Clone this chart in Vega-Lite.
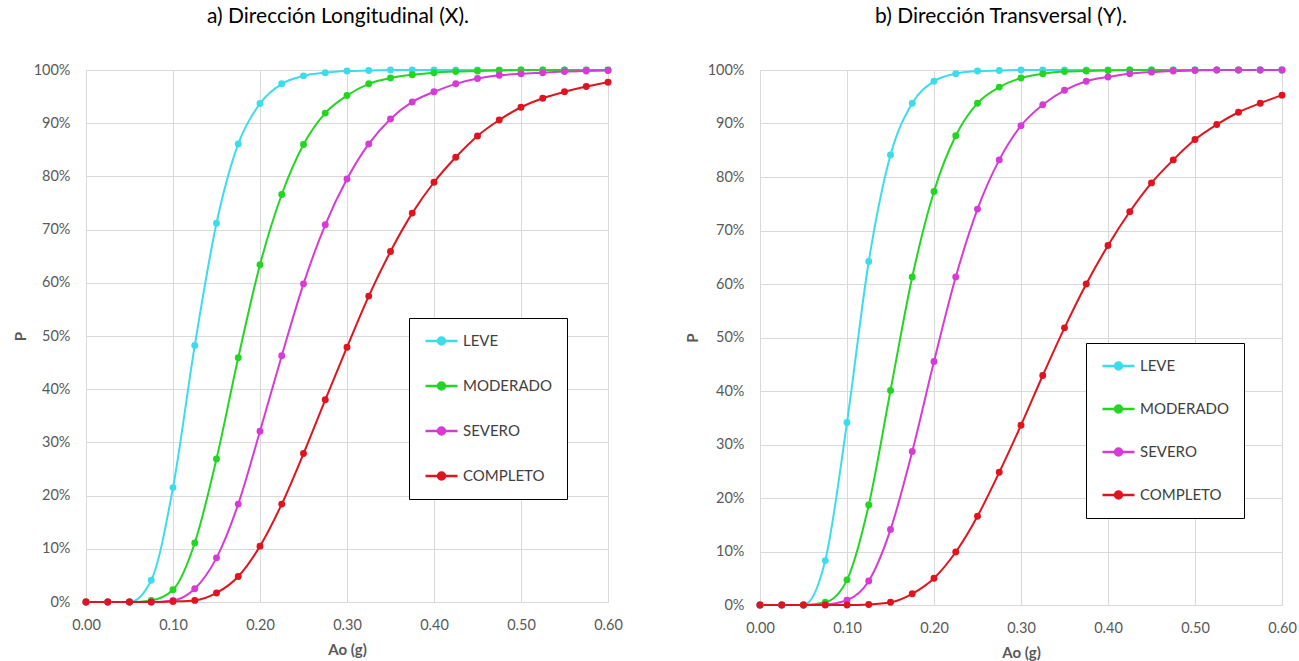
{
  "$schema": "https://vega.github.io/schema/vega-lite/v6.json",
  "background": "white",
  "padding": {"left": 12, "top": 5, "right": 5, "bottom": 0},
  "datasets": {
    "X": [
      {"x": 0.000, "LEVE": 0.000, "MODERADO": 0.000, "SEVERO": 0.000, "COMPLETO": 0.000},
      {"x": 0.025, "LEVE": 0.000, "MODERADO": 0.000, "SEVERO": 0.000, "COMPLETO": 0.000},
      {"x": 0.050, "LEVE": 0.000, "MODERADO": 0.000, "SEVERO": 0.000, "COMPLETO": 0.000},
      {"x": 0.075, "LEVE": 0.041, "MODERADO": 0.003, "SEVERO": 0.000, "COMPLETO": 0.000},
      {"x": 0.100, "LEVE": 0.215, "MODERADO": 0.023, "SEVERO": 0.003, "COMPLETO": 0.001},
      {"x": 0.125, "LEVE": 0.482, "MODERADO": 0.111, "SEVERO": 0.025, "COMPLETO": 0.003},
      {"x": 0.150, "LEVE": 0.712, "MODERADO": 0.269, "SEVERO": 0.083, "COMPLETO": 0.017},
      {"x": 0.175, "LEVE": 0.861, "MODERADO": 0.459, "SEVERO": 0.184, "COMPLETO": 0.048},
      {"x": 0.200, "LEVE": 0.937, "MODERADO": 0.634, "SEVERO": 0.321, "COMPLETO": 0.105},
      {"x": 0.225, "LEVE": 0.974, "MODERADO": 0.766, "SEVERO": 0.463, "COMPLETO": 0.184},
      {"x": 0.250, "LEVE": 0.989, "MODERADO": 0.860, "SEVERO": 0.598, "COMPLETO": 0.279},
      {"x": 0.275, "LEVE": 0.995, "MODERADO": 0.919, "SEVERO": 0.709, "COMPLETO": 0.380},
      {"x": 0.300, "LEVE": 0.998, "MODERADO": 0.952, "SEVERO": 0.795, "COMPLETO": 0.479},
      {"x": 0.325, "LEVE": 0.999, "MODERADO": 0.974, "SEVERO": 0.861, "COMPLETO": 0.575},
      {"x": 0.350, "LEVE": 1.000, "MODERADO": 0.985, "SEVERO": 0.908, "COMPLETO": 0.659},
      {"x": 0.375, "LEVE": 1.000, "MODERADO": 0.991, "SEVERO": 0.940, "COMPLETO": 0.731},
      {"x": 0.400, "LEVE": 1.000, "MODERADO": 0.995, "SEVERO": 0.959, "COMPLETO": 0.789},
      {"x": 0.425, "LEVE": 1.000, "MODERADO": 0.997, "SEVERO": 0.974, "COMPLETO": 0.836},
      {"x": 0.450, "LEVE": 1.000, "MODERADO": 0.998, "SEVERO": 0.984, "COMPLETO": 0.876},
      {"x": 0.475, "LEVE": 1.000, "MODERADO": 0.999, "SEVERO": 0.990, "COMPLETO": 0.906},
      {"x": 0.500, "LEVE": 1.000, "MODERADO": 1.000, "SEVERO": 0.993, "COMPLETO": 0.930},
      {"x": 0.525, "LEVE": 1.000, "MODERADO": 1.000, "SEVERO": 0.995, "COMPLETO": 0.947},
      {"x": 0.550, "LEVE": 1.000, "MODERADO": 1.000, "SEVERO": 0.997, "COMPLETO": 0.959},
      {"x": 0.575, "LEVE": 1.000, "MODERADO": 1.000, "SEVERO": 0.998, "COMPLETO": 0.969},
      {"x": 0.600, "LEVE": 1.000, "MODERADO": 1.000, "SEVERO": 0.999, "COMPLETO": 0.977}
    ],
    "Y": [
      {"x": 0.000, "LEVE": 0.000, "MODERADO": 0.000, "SEVERO": 0.000, "COMPLETO": 0.000},
      {"x": 0.025, "LEVE": 0.000, "MODERADO": 0.000, "SEVERO": 0.000, "COMPLETO": 0.000},
      {"x": 0.050, "LEVE": 0.000, "MODERADO": 0.000, "SEVERO": 0.000, "COMPLETO": 0.000},
      {"x": 0.075, "LEVE": 0.083, "MODERADO": 0.005, "SEVERO": 0.001, "COMPLETO": 0.000},
      {"x": 0.100, "LEVE": 0.341, "MODERADO": 0.047, "SEVERO": 0.009, "COMPLETO": 0.000},
      {"x": 0.125, "LEVE": 0.642, "MODERADO": 0.187, "SEVERO": 0.045, "COMPLETO": 0.001},
      {"x": 0.150, "LEVE": 0.841, "MODERADO": 0.401, "SEVERO": 0.141, "COMPLETO": 0.005},
      {"x": 0.175, "LEVE": 0.938, "MODERADO": 0.613, "SEVERO": 0.287, "COMPLETO": 0.021},
      {"x": 0.200, "LEVE": 0.979, "MODERADO": 0.773, "SEVERO": 0.455, "COMPLETO": 0.050},
      {"x": 0.225, "LEVE": 0.993, "MODERADO": 0.877, "SEVERO": 0.613, "COMPLETO": 0.099},
      {"x": 0.250, "LEVE": 0.998, "MODERADO": 0.938, "SEVERO": 0.740, "COMPLETO": 0.166},
      {"x": 0.275, "LEVE": 0.999, "MODERADO": 0.968, "SEVERO": 0.832, "COMPLETO": 0.248},
      {"x": 0.300, "LEVE": 1.000, "MODERADO": 0.985, "SEVERO": 0.896, "COMPLETO": 0.336},
      {"x": 0.325, "LEVE": 1.000, "MODERADO": 0.993, "SEVERO": 0.935, "COMPLETO": 0.429},
      {"x": 0.350, "LEVE": 1.000, "MODERADO": 0.997, "SEVERO": 0.962, "COMPLETO": 0.518},
      {"x": 0.375, "LEVE": 1.000, "MODERADO": 0.998, "SEVERO": 0.979, "COMPLETO": 0.600},
      {"x": 0.400, "LEVE": 1.000, "MODERADO": 0.999, "SEVERO": 0.987, "COMPLETO": 0.672},
      {"x": 0.425, "LEVE": 1.000, "MODERADO": 1.000, "SEVERO": 0.993, "COMPLETO": 0.735},
      {"x": 0.450, "LEVE": 1.000, "MODERADO": 1.000, "SEVERO": 0.996, "COMPLETO": 0.789},
      {"x": 0.475, "LEVE": 1.000, "MODERADO": 1.000, "SEVERO": 0.998, "COMPLETO": 0.832},
      {"x": 0.500, "LEVE": 1.000, "MODERADO": 1.000, "SEVERO": 0.999, "COMPLETO": 0.870},
      {"x": 0.525, "LEVE": 1.000, "MODERADO": 1.000, "SEVERO": 1.000, "COMPLETO": 0.898},
      {"x": 0.550, "LEVE": 1.000, "MODERADO": 1.000, "SEVERO": 1.000, "COMPLETO": 0.921},
      {"x": 0.575, "LEVE": 1.000, "MODERADO": 1.000, "SEVERO": 1.000, "COMPLETO": 0.938},
      {"x": 0.600, "LEVE": 1.000, "MODERADO": 1.000, "SEVERO": 1.000, "COMPLETO": 0.953}
    ]
  },
  "spacing": 61,
  "resolve": {
    "scale": {"x": "independent", "y": "independent", "color": "independent", "shape": "independent"},
    "legend": {"color": "independent", "shape": "independent"}
  },
  "hconcat": [
    {
      "title": {"text": "a) Dirección Longitudinal (X).", "dx": -9},
      "width": 522,
      "height": 532,
      "data": {"name": "X"},
      "transform": [{"fold": ["LEVE", "MODERADO", "SEVERO", "COMPLETO"], "as": ["serie", "p"]}],
      "encoding": {
        "x": {"field": "x", "type": "quantitative", "scale": {"domain": [0, 0.6], "nice": false},
              "axis": {"values": [0, 0.1, 0.2, 0.3, 0.4, 0.5, 0.6], "format": ".2f", "title": "Ao (g)", "labelFlush": false, "titlePadding": 11}},
        "y": {"field": "p", "type": "quantitative", "scale": {"domain": [0, 1], "nice": false},
              "axis": {"values": [0, 0.1, 0.2, 0.3, 0.4, 0.5, 0.6, 0.7, 0.8, 0.9, 1], "format": ".0%", "title": "P", "titleX": -58}},
        "color": {"field": "serie", "type": "nominal",
                  "scale": {"domain": ["LEVE", "MODERADO", "SEVERO", "COMPLETO"], "range": ["#3DDCEB", "#22D622", "#D63BD6", "#E0141E"]},
                  "legend": {"title": null, "orient": "none", "legendX": 323, "legendY": 248, "padding": 15, "rowPadding": 29, "clipHeight": 16,
                             "strokeColor": "black", "fillColor": "white", "symbolType": "M-1,0H1M0.22,0A0.22,0.22,0,1,1,-0.22,0A0.22,0.22,0,1,1,0.22,0Z",
                             "symbolSize": 1024, "symbolStrokeWidth": 2.5, "labelFontSize": 15, "labelColor": "#404040", "labelOffset": 4, "labelFont": "Lato",
                             "encode": {"symbols": {"update": {"fill": {"signal": "datum.value==='LEVE'?'#3DDCEB':datum.value==='MODERADO'?'#22D622':datum.value==='SEVERO'?'#D63BD6':'#E0141E'"}, "fillOpacity": {"value": 1}}}}}}
      },
      "layer": [
        {"mark": {"type": "line", "interpolate": "monotone", "strokeWidth": 2}},
        {"mark": {"type": "point", "filled": true, "opacity": 1, "size": 48}}
      ]
    },
    {
      "title": {"text": "b) Dirección Transversal (Y).", "dx": -20},
      "width": 522,
      "height": 535,
      "data": {"name": "Y"},
      "transform": [{"fold": ["LEVE", "MODERADO", "SEVERO", "COMPLETO"], "as": ["serie", "p"]}],
      "encoding": {
        "x": {"field": "x", "type": "quantitative", "scale": {"domain": [0, 0.6], "nice": false},
              "axis": {"values": [0, 0.1, 0.2, 0.3, 0.4, 0.5, 0.6], "format": ".2f", "title": "Ao (g)", "labelFlush": false, "titlePadding": 11}},
        "y": {"field": "p", "type": "quantitative", "scale": {"domain": [0, 1], "nice": false},
              "axis": {"values": [0, 0.1, 0.2, 0.3, 0.4, 0.5, 0.6, 0.7, 0.8, 0.9, 1], "format": ".0%", "title": "P", "titleX": -60}},
        "color": {"field": "serie", "type": "nominal",
                  "scale": {"domain": ["LEVE", "MODERADO", "SEVERO", "COMPLETO"], "range": ["#3DDCEB", "#22D622", "#D63BD6", "#E0141E"]},
                  "legend": {"title": null, "orient": "none", "legendX": 326, "legendY": 273, "padding": 15, "rowPadding": 27, "clipHeight": 16,
                             "strokeColor": "black", "fillColor": "white", "symbolType": "M-1,0H1M0.22,0A0.22,0.22,0,1,1,-0.22,0A0.22,0.22,0,1,1,0.22,0Z",
                             "symbolSize": 1024, "symbolStrokeWidth": 2.5, "labelFontSize": 15, "labelColor": "#404040", "labelOffset": 4, "labelFont": "Lato",
                             "encode": {"symbols": {"update": {"fill": {"signal": "datum.value==='LEVE'?'#3DDCEB':datum.value==='MODERADO'?'#22D622':datum.value==='SEVERO'?'#D63BD6':'#E0141E'"}, "fillOpacity": {"value": 1}}}}}}
      },
      "layer": [
        {"mark": {"type": "line", "interpolate": "monotone", "strokeWidth": 2}},
        {"mark": {"type": "point", "filled": true, "opacity": 1, "size": 48}}
      ]
    }
  ],
  "config": {
    "font": "Lato",
    "view": {"stroke": "#D9D9D9"},
    "title": {"fontSize": 21, "font": "Lato", "fontWeight": "normal", "color": "black", "offset": 35, "anchor": "middle"},
    "axis": {"domain": false, "ticks": false, "grid": true, "gridColor": "#D9D9D9", "labelColor": "#595959", "labelFontSize": 14.5, "labelFont": "Lato",
             "labelPadding": 16, "titleColor": "#595959", "titleFontSize": 15, "titleFontWeight": "bold", "titleFont": "Lato"}
  }
}
